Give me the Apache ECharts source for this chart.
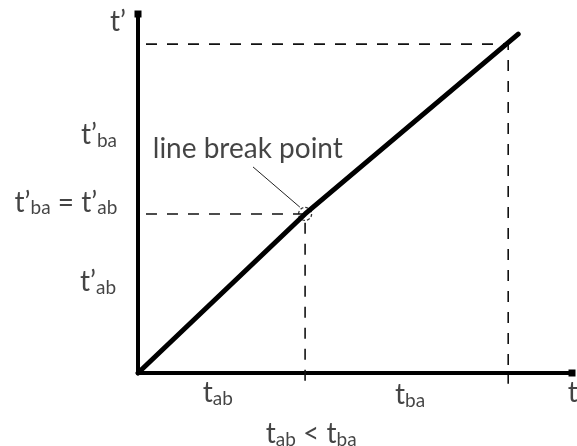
<!DOCTYPE html>
<html>
<head>
<meta charset="utf-8">
<script src="https://cdn.jsdelivr.net/npm/echarts@6/dist/echarts.min.js"></script>
<style>html,body{margin:0;padding:0;background:#fff}#c{width:577px;height:446px}</style>
</head>
<body>
<div id="c"></div>
<script>
// Broken line t' vs t (abstract units, axes 0..100)
const lineX = [0, 38.5, 87.6];
const lineY = [0, 44.3, 94.4];
const breakPoint = [38.5, 44.3];
const upperPoint = [85.3, 91.6];
const dashStart = -3;       // dashed guides reach slightly past the axes
const leaderFrom = [26.5, 57.4];
const leaderTo = [37.3, 46.2];

// Text labels and their anchor coordinates (data units)
const labelTexts = [
  "{m|t’}",
  "{m|t’}{s|ba}",
  "{m|t’}{s|ba}{m| = t’}{s|ab}",
  "{m|t’}{s|ab}",
  "{m|t}{s|ab}",
  "{m|t}{s|ba}",
  "{m|t}",
  "{m|t}{s|ab}{m| < t}{s|ba}",
  "{m|line break point}"
];
const labelX = [-4.6, -9.0, -16.6, -9.2, 18.4, 62.7, 100.2, 39.9, 25.3];
const labelY = [97.8, 66.3, 47.4, 25.3, -5.6, -6.1, -5.6, -17.0, 62.4];

const FONT = 'Lato';
const TXT = '#151515';
const rich = {
  m: { fontFamily: FONT, fontSize: 28, lineHeight: 30, color: TXT, verticalAlign: 'middle' },
  s: { fontFamily: FONT, fontSize: 19, lineHeight: 22, color: TXT, verticalAlign: 'bottom' }
};

const chart = echarts.init(document.getElementById('c'), null, { renderer: 'canvas' });
const axisCommon = {
  type: 'value', min: 0, max: 100,
  axisLine: { show: true, onZero: false, symbol: ['none', 'rect'], symbolSize: [7, 7],
              lineStyle: { color: '#000', width: 4 } },
  axisTick: { show: false }, axisLabel: { show: false }, splitLine: { show: false }
};
const dashStyle = { color: '#111', width: 1.6, type: [11, 10] };

chart.setOption({
  animation: false,
  backgroundColor: '#fff',
  grid: { left: 138, right: 5, top: 14, bottom: 73 },
  xAxis: axisCommon,
  yAxis: axisCommon,
  series: [
    { type: 'line', clip: false, symbol: 'none', silent: true,
      data: [[dashStart, upperPoint[1]], [upperPoint[0], upperPoint[1]], [upperPoint[0], dashStart]],
      lineStyle: dashStyle, z: 2 },
    { type: 'line', clip: false, symbol: 'none', silent: true,
      data: [[dashStart, breakPoint[1]], [breakPoint[0], breakPoint[1]], [breakPoint[0], dashStart]],
      lineStyle: dashStyle, z: 2 },
    { type: 'line', clip: false, symbol: 'none', silent: true,
      data: lineX.map((x, i) => [x, lineY[i]]),
      lineStyle: { color: '#000', width: 5, cap: 'round', join: 'round' }, z: 5 },
    { type: 'line', clip: false, symbol: 'none', silent: true,
      data: [leaderFrom, leaderTo],
      lineStyle: { color: '#222', width: 1 }, z: 4 },
    { type: 'scatter', clip: false, silent: true, symbol: 'circle', symbolSize: 13,
      data: [breakPoint],
      itemStyle: { color: 'rgba(0,0,0,0)', borderColor: '#000', borderWidth: 1.3, borderType: [3, 2] }, z: 6 },
    { type: 'scatter', clip: false, silent: true, symbolSize: 0,
      data: labelTexts.map((t, i) => ({ value: [labelX[i], labelY[i]], name: t })),
      label: { show: true, position: 'inside', formatter: p => p.name, rich: rich },
      z: 7 }
  ]
});
</script>
</body>
</html>
